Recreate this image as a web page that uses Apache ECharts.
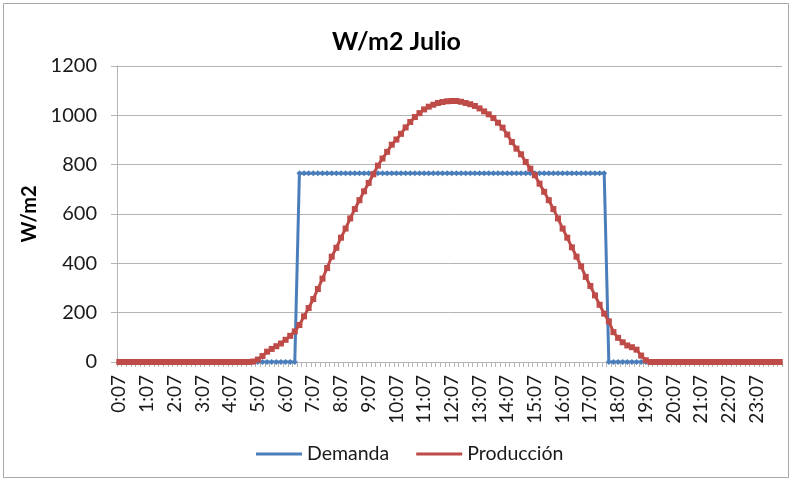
<!DOCTYPE html>
<html>
<head>
<meta charset="utf-8">
<script src="https://cdn.jsdelivr.net/npm/echarts@6/dist/echarts.min.js"></script>
<style>
  html, body { margin: 0; padding: 0; background: #fff; }
  #chart { width: 793px; height: 483px; }
</style>
</head>
<body>
<div id="chart"></div>
<script>
// Times of day, one sample every 10 minutes
const times = [
  "0:07","0:17","0:27","0:37","0:47","0:57","1:07","1:17","1:27","1:37","1:47","1:57",
  "2:07","2:17","2:27","2:37","2:47","2:57","3:07","3:17","3:27","3:37","3:47","3:57",
  "4:07","4:17","4:27","4:37","4:47","4:57","5:07","5:17","5:27","5:37","5:47","5:57",
  "6:07","6:17","6:27","6:37","6:47","6:57","7:07","7:17","7:27","7:37","7:47","7:57",
  "8:07","8:17","8:27","8:37","8:47","8:57","9:07","9:17","9:27","9:37","9:47","9:57",
  "10:07","10:17","10:27","10:37","10:47","10:57","11:07","11:17","11:27","11:37","11:47","11:57",
  "12:07","12:17","12:27","12:37","12:47","12:57","13:07","13:17","13:27","13:37","13:47","13:57",
  "14:07","14:17","14:27","14:37","14:47","14:57","15:07","15:17","15:27","15:37","15:47","15:57",
  "16:07","16:17","16:27","16:37","16:47","16:57","17:07","17:17","17:27","17:37","17:47","17:57",
  "18:07","18:17","18:27","18:37","18:47","18:57","19:07","19:17","19:27","19:37","19:47","19:57",
  "20:07","20:17","20:27","20:37","20:47","20:57","21:07","21:17","21:27","21:37","21:47","21:57",
  "22:07","22:17","22:27","22:37","22:47","22:57","23:07","23:17","23:27","23:37","23:47","23:57"
];

// Demand (W/m2)
const demanda = [
  0,0,0,0,0,0, 0,0,0,0,0,0, 0,0,0,0,0,0, 0,0,0,0,0,0,
  0,0,0,0,0,0, 0,0,0,0,0,0, 0,0,0,765,765,765, 765,765,765,765,765,765,
  765,765,765,765,765,765, 765,765,765,765,765,765, 765,765,765,765,765,765, 765,765,765,765,765,765,
  765,765,765,765,765,765, 765,765,765,765,765,765, 765,765,765,765,765,765, 765,765,765,765,765,765,
  765,765,765,765,765,765, 765,765,765,765,0,0, 0,0,0,0,0,0, 0,0,0,0,0,0,
  0,0,0,0,0,0, 0,0,0,0,0,0, 0,0,0,0,0,0, 0,0,0,0,0,0
];

// Production (W/m2)
const produccion = [
  0,0,0,0,0,0, 0,0,0,0,0,0, 0,0,0,0,0,0, 0,0,0,0,0,0,
  0,0,0,0,0,2, 10,24,42,53,64,75, 90,106,124,150,185,219, 255,296,338,381,427,463,
  504,541,582,620,656,692, 726,761,796,825,852,881, 902,925,951,973,993,1009, 1024,1035,1043,1050,1054,1057,
  1058,1058,1055,1050,1045,1038, 1028,1016,1004,989,970,950, 922,892,865,842,811,784, 757,723,690,656,620,582,
  541,504,465,427,388,345, 308,270,232,196,165,121, 98,80,67,60,50,26, 7,0,0,0,0,0,
  0,0,0,0,0,0, 0,0,0,0,0,0, 0,0,0,0,0,0, 0,0,0,0,0,0
];

const yTicks = { min: 0, max: 1200, interval: 200 };

const FONT = 'Lato, "Open Sans", sans-serif';
const BLUE = '#4a7ebb';
const RED = '#be4b48';
const GRID_GRAY = '#b4b4b4';
const TEXT = '#1a1a1a';

const chart = echarts.init(document.getElementById('chart'), null, { renderer: 'canvas' });

chart.setOption({
  backgroundColor: '#ffffff',
  animation: false,
  graphic: [{
    type: 'rect',
    shape: { x: 3.5, y: 3.5, width: 785, height: 474 },
    style: { fill: 'none', stroke: '#a6a6a6', lineWidth: 1 },
    silent: true
  }],
  title: {
    text: 'W/m2 Julio',
    left: 'center',
    top: 24,
    textStyle: { fontFamily: FONT, fontSize: 25, fontWeight: 'bold', color: '#000' }
  },
  legend: {
    left: 251,
    top: 439,
    itemWidth: 46,
    itemHeight: 3,
    itemGap: 27,
    textStyle: { fontFamily: FONT, fontSize: 19.5, color: TEXT },
    data: [
      { name: 'Demanda', icon: 'rect', itemStyle: { color: BLUE } },
      { name: 'Producción', icon: 'rect', itemStyle: { color: RED } }
    ]
  },
  grid: { left: 117, right: 11, top: 66, bottom: 121 },
  xAxis: {
    type: 'category',
    data: times,
    boundaryGap: true,
    axisLine: { show: true, lineStyle: { color: GRID_GRAY, width: 1 } },
    axisTick: { show: true, interval: 0, length: 5, lineStyle: { color: GRID_GRAY } },
    axisLabel: {
      interval: 5,
      rotate: 90,
      margin: 13,
      fontFamily: FONT,
      fontSize: 19,
      color: TEXT
    },
    splitLine: { show: false }
  },
  yAxis: {
    type: 'value',
    min: yTicks.min,
    max: yTicks.max,
    interval: yTicks.interval,
    name: 'W/m2',
    nameLocation: 'middle',
    nameGap: 63,
    nameRotate: 90,
    nameTextStyle: { fontFamily: FONT, fontSize: 20, fontWeight: 'bold', color: '#000' },
    axisLine: { show: true, lineStyle: { color: GRID_GRAY, width: 1 } },
    axisTick: { show: true, length: 6, lineStyle: { color: GRID_GRAY } },
    axisLabel: {
      margin: 20,
      fontFamily: FONT,
      fontSize: 20,
      color: TEXT,
      formatter: (v) => String(v)
    },
    splitLine: { show: true, lineStyle: { color: GRID_GRAY, width: 1 } }
  },
  series: [
    {
      name: 'Demanda',
      type: 'line',
      data: demanda,
      symbol: 'diamond',
      symbolSize: 6,
      showAllSymbol: true,
      lineStyle: { color: BLUE, width: 3 },
      itemStyle: { color: BLUE },
      z: 2
    },
    {
      name: 'Producción',
      type: 'line',
      data: produccion,
      symbol: 'rect',
      symbolSize: 6,
      showAllSymbol: true,
      lineStyle: { color: RED, width: 3 },
      itemStyle: { color: RED },
      z: 3
    }
  ]
});
</script>
</body>
</html>
